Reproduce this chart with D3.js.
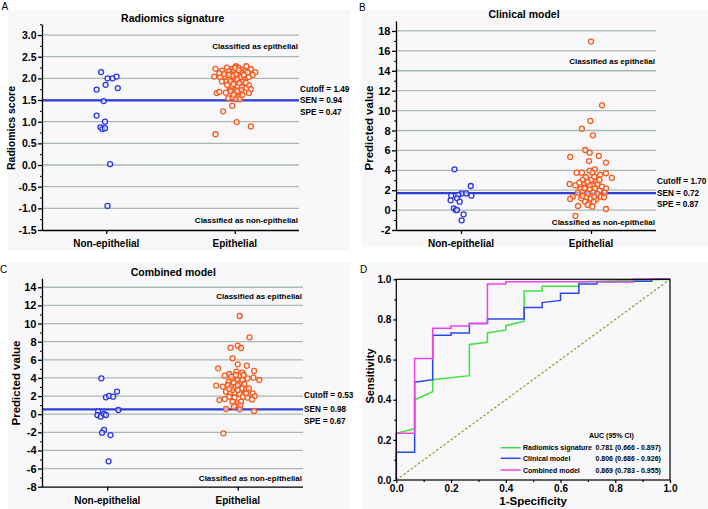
<!DOCTYPE html>
<html><head><meta charset="utf-8">
<script src="https://cdn.jsdelivr.net/npm/d3@7"></script>
<style>body{margin:0;background:#fff;} svg{display:block;font-family:"Liberation Sans",Arial,sans-serif;}</style>
</head><body><svg id="c" width="708" height="509"></svg>
<script>
// ---------------- DATA ----------------
const categories = ["Non-epithelial", "Epithelial"];

// Panel A: Radiomics signature (value, jitter in category-step units)
const radNonEpi = [2.145,2.00,2.00,2.04,1.85,1.74,1.775,1.475,1.14,1.00,0.87,0.83,0.85,0.02,-0.945];
const radNonEpiJit = [-0.04,0.01,0.05,0.08,-0.005,-0.075,0.09,-0.02,-0.075,-0.01,-0.045,-0.03,-0.01,0.03,0.01];
const radEpi = [2.22,2.25,2.22,2.28,2.24,2.20,2.28,2.21,2.14,2.17,2.14,2.16,2.16,2.18,2.04,2.03,2.04,1.98,2.01,2.06,1.98,2.03,1.93,1.93,1.93,1.93,1.93,1.85,1.83,1.81,1.80,1.78,1.84,1.73,1.73,1.72,1.75,1.66,1.69,1.67,1.70,1.66,1.64,1.66,1.57,1.56,1.54,1.52,1.52,1.37,1.24,0.99,0.89,0.71,2.10,2.10,2.06,1.98,2.03,1.90,1.87,1.89,2.19,2.24,2.08,2.10,2.12,2.08,2.14,2.08,1.62,1.62,1.70];
const radEpiJit = [-0.15,-0.06,-0.02,0.01,0.03,0.06,0.09,0.125,0.16,0.08,0.05,-0.01,-0.045,-0.10,-0.16,-0.115,-0.075,-0.045,-0.01,0.035,0.07,0.11,0.06,0.01,-0.03,-0.07,-0.10,-0.06,-0.02,0.02,0.055,0.09,0.11,0.05,0.01,-0.04,0.125,-0.14,-0.12,-0.07,-0.03,0.0,0.04,0.11,0.03,-0.02,-0.05,0.01,0.04,-0.02,-0.09,0.015,0.125,-0.15,-0.03,0.01,-0.02,0.02,0.05,0.085,-0.01,0.035,0.03,0.0,-0.045,-0.085,-0.12,0.07,0.10,0.14,0.06,-0.01,0.02];
const radTicks = [-1.5,-1.0,-0.5,0.0,0.5,1.0,1.5,2.0,2.5,3.0];
const radCutoff = 1.49;
const radStats = ["Cutoff = 1.49","SEN = 0.94","SPE = 0.47"];

// Panel B: Clinical model
const cliNonEpi = [4.1,2.42,1.68,1.68,1.45,1.52,1.45,0.98,1.18,0.85,0.18,0.0,0.0,-0.43,-1.03];
const cliNonEpiJit = [-0.05,0.075,0.005,0.04,0.08,-0.02,-0.075,-0.08,-0.03,-0.01,-0.055,-0.04,-0.03,0.02,0.005];
const cliEpi = [16.93,10.53,8.96,8.18,7.51,6.04,5.77,5.34,5.44,4.93,4.77,4.10,3.96,3.76,3.76,3.56,3.76,3.70,3.23,3.30,3.03,3.03,2.86,3.36,2.62,2.48,2.76,2.62,2.76,2.48,2.62,2.35,2.19,2.29,2.12,2.09,2.19,1.95,1.75,1.85,1.68,1.75,1.62,1.75,1.35,1.12,1.18,1.28,1.15,1.08,1.35,1.28,0.85,0.68,0.85,0.52,0.34,0.41,0.11,-0.59,2.19,2.52,1.42,1.35,2.86,3.03];
const cliEpiJit = [0.0,0.085,-0.005,-0.07,0.015,-0.045,-0.01,-0.16,0.06,-0.015,0.115,0.03,-0.01,-0.11,-0.07,0.07,0.01,0.115,0.16,-0.04,-0.065,0.0,0.04,0.025,-0.165,-0.12,-0.09,-0.05,-0.025,0.015,0.05,0.085,0.115,-0.04,-0.08,-0.01,0.03,0.065,-0.10,-0.065,-0.025,0.015,0.05,0.105,-0.14,-0.16,-0.075,-0.04,0.0,0.04,0.075,0.10,-0.045,-0.015,0.02,-0.025,0.01,-0.10,0.115,-0.12,-0.05,-0.01,-0.065,0.025,-0.025,0.065];
const cliTicks = [-2,0,2,4,6,8,10,12,14,16,18];
const cliCutoff = 1.70;
const cliStats = ["Cutoff = 1.70","SEN = 0.72","SPE = 0.87"];

// Panel C: Combined model
const comNonEpi = [3.96,1.86,2.01,1.93,2.49,0.46,0.32,-0.09,-0.27,0.02,-0.09,-1.74,-2.04,-2.30,-5.2];
const comNonEpiJit = [-0.045,-0.01,0.015,0.045,0.075,0.085,-0.07,-0.075,-0.05,-0.025,-0.01,-0.025,-0.04,0.025,0.01];
const comEpi = [10.83,8.48,7.34,7.56,7.30,6.16,5.50,5.35,5.06,4.69,4.58,4.77,4.43,4.25,4.32,3.96,4.03,3.77,3.85,3.77,3.59,3.48,3.48,3.33,3.15,3.04,3.22,2.96,3.04,2.85,2.74,2.85,2.48,2.30,2.37,2.22,2.30,2.30,2.0,1.93,1.82,1.93,1.82,1.56,1.67,1.63,1.38,1.20,1.38,0.98,0.98,0.83,0.57,0.53,0.35,-2.11,2.66,2.66,3.22,3.77,4.14,4.32,2.30,2.77];
const comEpiJit = [0.015,0.09,-0.055,0.0,0.025,-0.04,0.0,0.07,-0.15,-0.01,0.035,0.125,-0.065,-0.10,0.045,0.075,0.12,0.165,-0.04,0.0,-0.07,-0.03,0.02,0.05,-0.165,-0.115,-0.075,-0.05,-0.015,0.035,0.065,0.085,-0.09,-0.055,-0.025,0.015,0.055,0.115,0.13,-0.065,-0.025,0.04,0.075,-0.14,-0.10,0.11,-0.04,0.0,0.025,-0.02,0.02,-0.03,-0.09,0.015,0.125,-0.11,-0.04,0.0,0.0,0.035,-0.05,-0.015,0.065,-0.065];
const comTicks = [-8,-6,-4,-2,0,2,4,6,8,10,12,14];
const comCutoff = 0.53;
const comStats = ["Cutoff = 0.53","SEN = 0.98","SPE = 0.67"];

// Panel D: ROC curves [1-specificity, sensitivity]
const rocRadiomics = [[0,0],[0,0.233],[0.067,0.256],[0.067,0.4],[0.133,0.44],[0.133,0.5],[0.267,0.52],[0.267,0.675],[0.333,0.686],[0.333,0.733],[0.4,0.748],[0.4,0.769],[0.467,0.791],[0.467,0.942],[0.533,0.942],[0.533,0.965],[0.667,0.965],[0.667,0.988],[1,1]];
const rocClinical = [[0,0],[0,0.138],[0.067,0.138],[0.067,0.487],[0.133,0.5],[0.133,0.721],[0.2,0.721],[0.2,0.733],[0.267,0.733],[0.267,0.78],[0.333,0.78],[0.333,0.802],[0.467,0.802],[0.467,0.86],[0.533,0.86],[0.533,0.884],[0.6,0.895],[0.6,0.93],[0.667,0.93],[0.667,0.977],[0.733,0.977],[0.733,0.988],[0.867,0.988],[0.867,0.99],[0.933,0.99],[0.933,1],[1,1]];
const rocCombined = [[0,0],[0,0.233],[0.067,0.233],[0.067,0.605],[0.133,0.605],[0.133,0.756],[0.2,0.756],[0.2,0.767],[0.267,0.767],[0.267,0.78],[0.333,0.78],[0.333,0.977],[0.4,0.977],[0.4,0.988],[0.867,0.988],[0.867,1],[1,1]];
const rocNames = ["Radiomics signature","Clinical model","Combined model"];
const rocAuc = ["0.781 (0.666 - 0.897)","0.806 (0.686 - 0.926)","0.869 (0.783 - 0.955)"];
const rocTicks = [0,0.2,0.4,0.6,0.8,1.0];

// ---------------- DRAWING ----------------
const svg = d3.select("#c");
const BLUE_PT = "#2a36e6", ORANGE_PT = "#f85a1e", GRID = "#a8b9b1", CUT = "#2b3fd6";

// panel backgrounds
[[8,10,342,241],[361,10,347,237],[8,262,342,247],[362,263,346,246]].forEach(r=>{
  svg.append("rect").attr("x",r[0]).attr("y",r[1]).attr("width",r[2]).attr("height",r[3]).attr("fill","#f8f8fa");
});

function scatterPanel(c) {
  const g = svg.append("g");
  const x = d3.scalePoint().domain(categories).range([c.left, c.right]).padding(0.5);
  const y = d3.scaleLinear().domain(c.domain).range([c.bottom, c.top]);
  const step = x.step();
  // grid
  g.selectAll("line.grid").data(c.ticks.slice(1)).join("line")
    .attr("x1", c.left).attr("x2", c.right)
    .attr("y1", d => y(d)).attr("y2", d => y(d))
    .attr("stroke", GRID).attr("stroke-width", 1.3);
  // cutoff line
  g.append("line").attr("x1", c.left).attr("x2", c.right)
    .attr("y1", y(c.cutoff)).attr("y2", y(c.cutoff))
    .attr("stroke", CUT).attr("stroke-width", 2.2);
  // y axis minor
  g.append("g").attr("transform", `translate(${c.left},0)`)
    .call(d3.axisLeft(y).tickValues(c.minor).tickSize(2).tickFormat(""))
    .call(s => s.select(".domain").remove());
  // y axis major
  const ya = g.append("g").attr("transform", `translate(${c.left},0)`)
    .call(d3.axisLeft(y).tickValues(c.ticks).tickSize(4).tickSizeOuter(0).tickPadding(1.5).tickFormat(c.fmt));
  ya.selectAll("text").attr("font-size", c.tickFont).attr("font-weight", "bold").attr("fill", "#000").attr("font-family", '"Liberation Sans",Arial,sans-serif');
  ya.selectAll("line,path").attr("stroke", "#000").attr("stroke-width", 1.3);
  // x axis
  const xa = g.append("g").attr("transform", `translate(0,${c.bottom})`)
    .call(d3.axisBottom(x).tickSize(4).tickSizeOuter(0).tickFormat(""));
  xa.select(".domain").attr("d", `M${c.left},0.5H${c.right}`);
  xa.selectAll("line,path").attr("stroke", "#000").attr("stroke-width", 1.3);
  g.selectAll("text.cat").data(categories).join("text")
    .attr("x", d => x(d)).attr("y", c.bottom + 17).attr("text-anchor", "middle")
    .attr("font-size", 10).attr("font-weight", "bold").text(d => d);
  // y label
  g.append("text").attr("transform", `translate(${c.ylabX},${c.ylabY}) rotate(-90)`)
    .attr("text-anchor", "middle").attr("font-size", c.ylabFont).attr("font-weight", "bold").text(c.ylabel);
  // title
  g.append("text").attr("x", c.titleX).attr("y", c.titleY).attr("text-anchor", "middle")
    .attr("font-size", 10.5).attr("font-weight", "bold").text(c.title);
  // classified labels
  g.append("text").attr("x", c.right - 1).attr("y", c.clsTop).attr("text-anchor", "end")
    .attr("font-size", 8).attr("font-weight", "bold").text("Classified as epithelial");
  g.append("text").attr("x", c.right - 1).attr("y", c.clsBot).attr("text-anchor", "end")
    .attr("font-size", 8).attr("font-weight", "bold").text("Classified as non-epithelial");
  // stats
  g.selectAll("text.stat").data(c.stats).join("text")
    .attr("x", c.right + 1).attr("y", (d, i) => y(c.cutoff) + c.statOff[i])
    .attr("font-size", 8.2).attr("font-weight", "bold").text(d => d);
  // points
  const pts = [];
  c.nonEpi.forEach((v, i) => pts.push({cat: categories[0], v, j: c.nonEpiJit[i], col: BLUE_PT}));
  c.epi.forEach((v, i) => pts.push({cat: categories[1], v, j: c.epiJit[i], col: ORANGE_PT}));
  g.selectAll("circle").data(pts).join("circle")
    .attr("cx", d => x(d.cat) + d.j * step).attr("cy", d => y(d.v)).attr("r", 2.5)
    .attr("fill", "#fff").attr("fill-opacity", 0.6).attr("stroke", d => d.col).attr("stroke-width", 1.3);
  // panel letter
  svg.append("text").attr("x", c.letX).attr("y", c.letY).attr("font-size", 10).text(c.letter);
}

const halfSteps = (lo, hi, st) => d3.range(lo + st / 2, hi, st);

scatterPanel({
  left: 42, right: 299, top: 24.2, bottom: 230, domain: [-1.5, 3.25],
  ticks: radTicks, minor: halfSteps(-1.5, 3.3, 0.5), fmt: d => d.toFixed(1), tickFont: 10.5,
  cutoff: radCutoff, stats: radStats, statOff: [-8.6, 2.6, 14.3],
  nonEpi: radNonEpi, nonEpiJit: radNonEpiJit, epi: radEpi, epiJit: radEpiJit,
  ylabel: "Radiomics score", ylabX: 15, ylabY: 128, ylabFont: 10.5,
  title: "Radiomics signature", titleX: 172.7, titleY: 22,
  clsTop: 48.5, clsBot: 222.5, letter: "A", letX: 1.5, letY: 10
});
scatterPanel({
  left: 396, right: 656, top: 21, bottom: 230, domain: [-2, 19],
  ticks: cliTicks, minor: halfSteps(-2, 19, 2), fmt: d => String(d), tickFont: 11,
  cutoff: cliCutoff, stats: cliStats, statOff: [-9, 2.7, 13.9],
  nonEpi: cliNonEpi, nonEpiJit: cliNonEpiJit, epi: cliEpi, epiJit: cliEpiJit,
  ylabel: "Predicted value", ylabX: 373, ylabY: 128, ylabFont: 11.5,
  title: "Clinical model", titleX: 524, titleY: 17.7,
  clsTop: 64, clsBot: 224.5, letter: "B", letX: 359, letY: 11
});
scatterPanel({
  left: 42, right: 303, top: 278.2, bottom: 486.7, domain: [-8, 15],
  ticks: comTicks, minor: halfSteps(-8, 15, 2), fmt: d => String(d), tickFont: 11,
  cutoff: comCutoff, stats: comStats, statOff: [-11, 2.4, 15],
  nonEpi: comNonEpi, nonEpiJit: comNonEpiJit, epi: comEpi, epiJit: comEpiJit,
  ylabel: "Predicted value", ylabX: 19.5, ylabY: 383, ylabFont: 11.5,
  title: "Combined model", titleX: 173.3, titleY: 276,
  clsTop: 299, clsBot: 481, letter: "C", letX: 0, letY: 273
});

// ---- Panel D ----
(function () {
  const L = 396.3, R = 670, T = 279.3, B = 480;
  const x = d3.scaleLinear().domain([0, 1]).range([L, R]);
  const y = d3.scaleLinear().domain([0, 1]).range([B, T]);
  const g = svg.append("g");
  g.append("rect").attr("x", L).attr("y", T).attr("width", R - L).attr("height", B - T).attr("fill", "#f8f8fa");
  // diagonal
  g.append("line").attr("x1", x(0)).attr("y1", y(0)).attr("x2", x(1)).attr("y2", y(1))
    .attr("stroke", "#8f9b25").attr("stroke-width", 1.2).attr("stroke-dasharray", "2.5,2");
  const line = d3.line().x(d => x(d[0])).y(d => y(d[1]));
  const curves = [[rocRadiomics, "#3fe23f"], [rocClinical, "#2a48e8"], [rocCombined, "#f040ee"]];
  curves.forEach(([d, col]) => g.append("path").datum(d).attr("d", line)
    .attr("fill", "none").attr("stroke", col).attr("stroke-width", 1.5));
  // frame
  g.append("rect").attr("x", L).attr("y", T).attr("width", R - L).attr("height", B - T)
    .attr("fill", "none").attr("stroke", "#000").attr("stroke-width", 1.2);
  const minor = [0.1, 0.3, 0.5, 0.7, 0.9];
  const styleAx = s => {
    s.select(".domain").remove();
    s.selectAll("line").attr("stroke", "#000").attr("stroke-width", 1.2);
    s.selectAll("text").attr("font-size", 10).attr("font-weight", "bold").attr("fill", "#000").attr("font-family", '"Liberation Sans",Arial,sans-serif');
  };
  g.append("g").attr("transform", `translate(0,${B})`)
    .call(d3.axisBottom(x).tickValues(rocTicks).tickSize(3).tickPadding(1.5).tickFormat(d => d.toFixed(1))).call(styleAx);
  g.append("g").attr("transform", `translate(0,${B})`)
    .call(d3.axisBottom(x).tickValues(minor).tickSize(2).tickFormat("")).call(styleAx);
  g.append("g").attr("transform", `translate(${L},0)`)
    .call(d3.axisLeft(y).tickValues(rocTicks).tickSize(3).tickPadding(2).tickFormat(d => d.toFixed(1))).call(styleAx);
  g.append("g").attr("transform", `translate(${L},0)`)
    .call(d3.axisLeft(y).tickValues(minor).tickSize(2).tickFormat("")).call(styleAx);
  g.append("text").attr("x", (L + R) / 2).attr("y", 505).attr("text-anchor", "middle")
    .attr("font-size", 11.5).attr("font-weight", "bold").text("1-Specificity");
  g.append("text").attr("transform", `translate(374,376) rotate(-90)`).attr("text-anchor", "middle")
    .attr("font-size", 11).attr("font-weight", "bold").text("Sensitivity");
  // legend
  g.append("text").attr("x", 589).attr("y", 437.5).attr("font-size", 7).attr("font-weight", "bold").text("AUC  (95% CI)");
  const cols = curves.map(c => c[1]);
  const rowY = [447.7, 458.3, 470];
  rocNames.forEach((n, i) => {
    g.append("line").attr("x1", 500.7).attr("x2", 520.7).attr("y1", rowY[i]).attr("y2", rowY[i])
      .attr("stroke", cols[i]).attr("stroke-width", 1.5);
    g.append("text").attr("x", 523).attr("y", rowY[i] + 2.6).attr("font-size", 7).attr("font-weight", "bold").text(n);
    g.append("text").attr("x", 595.5).attr("y", rowY[i] + 2.6).attr("font-size", 7).attr("font-weight", "bold").text(rocAuc[i]);
  });
  svg.append("text").attr("x", 360).attr("y", 273).attr("font-size", 10).text("D");
})();
</script></body></html>
